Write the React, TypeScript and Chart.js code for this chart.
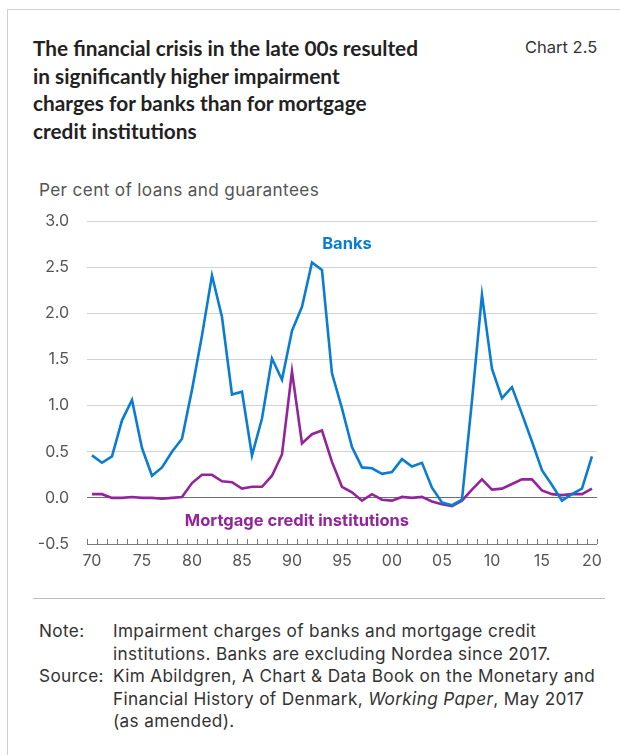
import React, { useEffect, useRef } from "react";
import { Chart, registerables } from "chart.js";

Chart.register(...registerables);

const years: string[] = [
  "1970","1971","1972","1973","1974","1975","1976","1977","1978","1979",
  "1980","1981","1982","1983","1984","1985","1986","1987","1988","1989",
  "1990","1991","1992","1993","1994","1995","1996","1997","1998","1999",
  "2000","2001","2002","2003","2004","2005","2006","2007","2008","2009",
  "2010","2011","2012","2013","2014","2015","2016","2017","2018","2019",
  "2020",
];

const banks: number[] = [
  0.46, 0.38, 0.45, 0.84, 1.06, 0.54, 0.24, 0.33, 0.50, 0.64,
  1.17, 1.76, 2.41, 1.96, 1.12, 1.15, 0.46, 0.86, 1.51, 1.28,
  1.81, 2.07, 2.55, 2.47, 1.35, 0.97, 0.55, 0.33, 0.32, 0.26,
  0.28, 0.42, 0.34, 0.38, 0.11, -0.05, -0.08, -0.02, 1.05, 2.20,
  1.40, 1.08, 1.20, 0.91, 0.61, 0.30, 0.14, -0.03, 0.04, 0.10,
  0.45,
];

const mortgage: number[] = [
  0.04, 0.04, 0.00, 0.00, 0.01, 0.00, 0.00, -0.01, 0.00, 0.01,
  0.16, 0.25, 0.25, 0.18, 0.17, 0.10, 0.12, 0.12, 0.24, 0.47,
  1.37, 0.59, 0.69, 0.73, 0.39, 0.12, 0.06, -0.03, 0.04, -0.02,
  -0.03, 0.01, 0.00, 0.01, -0.04, -0.07, -0.09, -0.03, 0.09, 0.20,
  0.09, 0.10, 0.15, 0.20, 0.20, 0.08, 0.04, 0.03, 0.04, 0.04,
  0.10,
];

const seriesNames: string[] = ["Banks", "Mortgage credit institutions"];
// annotation anchor: [year position (fractional index), value]
const labelYearPos: number[] = [25.5, 20.5];
const labelValues: number[] = [2.75, -0.25];

const yMin = -0.5;
const yMax = 3.0;
const yStep = 0.5;

const BLUE = "#0a7dd3";
const PURPLE = "#93249b";
const TITLE_FONT = "Lato, 'Open Sans', sans-serif";
const FONT = "Inter, 'Open Sans', sans-serif";

const tickMarksPlugin = {
  id: "tickMarksUp",
  afterDatasetsDraw(chart: any) {
    const x = chart.scales.x;
    const ctx = chart.ctx;
    const n = chart.data.labels.length;
    const bottom = chart.chartArea.bottom;
    const step = x.getPixelForValue(1) - x.getPixelForValue(0);
    ctx.save();
    ctx.strokeStyle = "#7a7a7a";
    ctx.lineWidth = 1;
    for (let i = 0; i <= n; i++) {
      const px = Math.round(x.getPixelForValue(i) - step / 2) + 0.5;
      ctx.beginPath();
      ctx.moveTo(px, bottom);
      ctx.lineTo(px, bottom - 5);
      ctx.stroke();
    }
    ctx.restore();
  },
};

const seriesLabelPlugin = {
  id: "seriesLabels",
  afterDatasetsDraw(chart: any) {
    const ctx = chart.ctx;
    const x = chart.scales.x;
    const y = chart.scales.y;
    const colors = [BLUE, PURPLE];
    ctx.save();
    ctx.font = `700 16.5px ${FONT}`;
    ctx.textAlign = "center";
    ctx.textBaseline = "middle";
    seriesNames.forEach((name, i) => {
      const px = x.getPixelForValue(0) + labelYearPos[i] * (x.getPixelForValue(1) - x.getPixelForValue(0));
      const py = y.getPixelForValue(labelValues[i]);
      ctx.fillStyle = colors[i];
      ctx.fillText(name, px, py);
    });
    ctx.restore();
  },
};

function ChartCanvas() {
  const ref = useRef<HTMLCanvasElement | null>(null);
  useEffect(() => {
    if (!ref.current) return;
    const chart = new Chart(ref.current, {
      type: "line",
      data: {
        labels: years,
        datasets: [
          {
            label: seriesNames[0],
            data: banks,
            borderColor: BLUE,
            backgroundColor: BLUE,
            borderWidth: 2.6,
            pointRadius: 0,
            tension: 0,
          },
          {
            label: seriesNames[1],
            data: mortgage,
            borderColor: PURPLE,
            backgroundColor: PURPLE,
            borderWidth: 2.6,
            pointRadius: 0,
            tension: 0,
          },
        ],
      },
      options: {
        animation: false,
        responsive: false,
        maintainAspectRatio: false,
        layout: { padding: { top: 21, right: 13, left: 0, bottom: 0 } },
        plugins: {
          legend: { display: false },
          tooltip: { enabled: false },
          title: { display: false },
        },
        scales: {
          x: {
            type: "category",
            offset: true,
            grid: {
              offset: true,
              drawOnChartArea: false,
              drawTicks: false,
            },
            border: { display: true, color: "#7a7a7a", width: 1 },
            ticks: {
              autoSkip: false,
              maxRotation: 0,
              minRotation: 0,
              padding: 8,
              color: "#555555",
              font: { family: FONT, size: 16 },
              callback: (_v: any, i: number) => {
                const yr = parseInt(years[i], 10);
                return yr % 5 === 0 ? years[i].slice(2) : "";
              },
            },
            afterFit: (s: any) => {
              s.height = 31;
            },
          },
          y: {
            min: yMin,
            max: yMax,
            grid: {
              drawTicks: true,
              tickLength: 18,
              tickColor: "rgba(0,0,0,0)",
              lineWidth: 1,
              color: (c: any) => {
                const v = c.tick ? c.tick.value : 0;
                if (Math.abs(v - yMin) < 1e-6) return "rgba(0,0,0,0)";
                if (Math.abs(v) < 1e-6) return "#6e6e6e";
                return "#d2d2d2";
              },
            },
            border: { display: false },
            ticks: {
              stepSize: yStep,
              padding: 0,
              color: "#555555",
              font: { family: FONT, size: 16 },
              callback: (v: any) => Number(v).toFixed(1),
            },
            afterFit: (s: any) => {
              s.width = 67;
            },
          },
        },
      },
      plugins: [tickMarksPlugin, seriesLabelPlugin],
    });
    return () => chart.destroy();
  }, []);
  return (
    <canvas
      ref={ref}
      width={590}
      height={375}
      style={{ position: "absolute", left: 20, top: 200, width: 590, height: 375 }}
    />
  );
}

export default function App() {
  const text: React.CSSProperties = { position: "absolute", fontFamily: FONT, margin: 0 };
  const body: React.CSSProperties = {
    ...text,
    fontSize: 17.2,
    letterSpacing: "0.35px",
    lineHeight: "22.6px",
    color: "#333333",
  };
  return (
    <div
      style={{
        position: "absolute",
        left: 0,
        top: 0,
        width: 620,
        height: 755,
        background: "#ffffff",
        overflow: "hidden",
      }}
    >
      <div
        style={{
          position: "absolute",
          left: 7,
          top: 9,
          width: 620,
          height: 760,
          borderLeft: "1px solid #cfcfcf",
          borderTop: "1px solid #cfcfcf",
        }}
      />
      <div
        style={{
          ...text,
          fontFamily: TITLE_FONT,
          left: 33,
          top: 34,
          fontSize: 20.8,
          fontWeight: 700,
          lineHeight: "27.6px",
          color: "#222222",
        }}
      >
        The financial crisis in the late 00s resulted
        <br />
        in significantly higher impairment
        <br />
        charges for banks than for mortgage
        <br />
        credit institutions
      </div>
      <div style={{ ...text, left: 525, top: 37, fontSize: 16.5, color: "#333333" }}>Chart 2.5</div>
      <div style={{ ...body, left: 39, top: 179, lineHeight: "normal", color: "#555555" }}>
        Per cent of loans and guarantees
      </div>
      <ChartCanvas />
      <div style={{ position: "absolute", left: 33, top: 598, width: 572, height: 1, background: "#bdbdbd" }} />
      <div style={{ ...body, left: 39, top: 620 }}>Note:</div>
      <div style={{ ...body, left: 113, top: 620 }}>
        Impairment charges of banks and mortgage credit
        <br />
        institutions. Banks are excluding Nordea since 2017.
      </div>
      <div style={{ ...body, left: 39, top: 665 }}>Source:</div>
      <div style={{ ...body, left: 113, top: 665 }}>
        Kim Abildgren, A Chart &amp; Data Book on the Monetary and
        <br />
        Financial History of Denmark, <i>Working Paper</i>, May 2017
        <br />
        (as amended).
      </div>
    </div>
  );
}
